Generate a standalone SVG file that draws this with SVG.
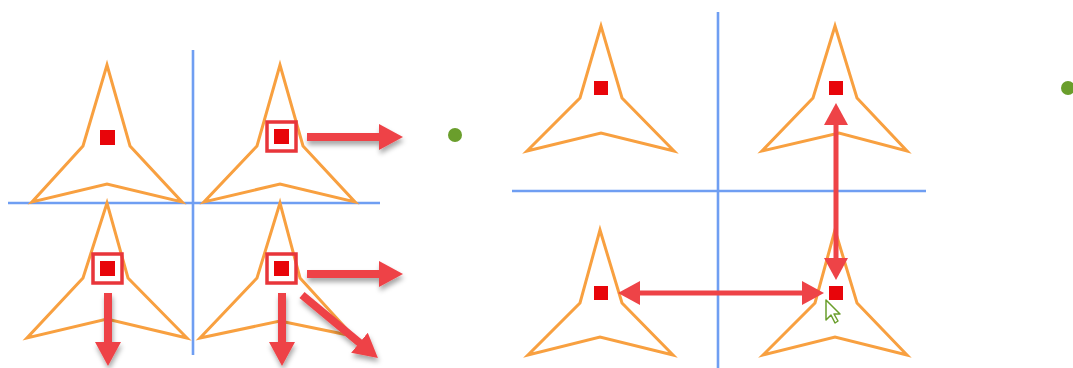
<svg xmlns="http://www.w3.org/2000/svg" width="1073" height="368" viewBox="0 0 1073 368">
<style>
.axis{stroke:#6f9ef2;stroke-width:2.6;fill:none}
.star{fill:none;stroke:#f8a040;stroke-width:3;stroke-linejoin:miter}
.pt{fill:#e8050a}
.sel{fill:none;stroke:#e8353a;stroke-width:3.5}
.arrL{stroke:#ee4347;stroke-width:8;fill:none;marker-end:url(#headL)}
.arrR{stroke:#ee4347;stroke-width:5;fill:none;marker-end:url(#headR);marker-start:url(#headR)}
.dot{fill:#6a9e2c}
</style>
<defs>
<marker id="headL" viewBox="0 0 24 26" markerWidth="24" markerHeight="26" markerUnits="userSpaceOnUse" refX="2" refY="13" orient="auto"><path d="M0,0 L24,13 L0,26 z" fill="#ee4347"/></marker>
<marker id="headR" viewBox="0 0 22 24" markerWidth="22" markerHeight="24" markerUnits="userSpaceOnUse" refX="2" refY="12" orient="auto-start-reverse"><path d="M0,0 L22,12 L0,24 z" fill="#ee4347"/></marker>
<filter id="shadow" filterUnits="userSpaceOnUse" x="0" y="0" width="1073" height="368"><feDropShadow dx="1" dy="4" stdDeviation="2.5" flood-color="#000" flood-opacity="0.35"/></filter>
</defs>
<rect width="1073" height="368" fill="#ffffff"/>
<g id="axes">
<line class="axis" x1="193" y1="50" x2="193" y2="355"/>
<line class="axis" x1="8" y1="203" x2="380" y2="203"/>
<line class="axis" x1="718" y1="12" x2="718" y2="368"/>
<line class="axis" x1="512" y1="191" x2="926" y2="191"/>
</g>
<g id="star-l-tl">
<path class="star" d="M107,65 L83,146 L32,202 L107,184 L182,202 L130,146 Z"/>
<rect class="pt" x="100" y="130" width="15" height="15"/>
</g>
<g id="star-l-tr">
<path class="star" d="M280,65 L257,146 L204,202 L280,184 L355,202 L303,146 Z"/>
<rect class="sel" x="267" y="122" width="29" height="29"/>
<rect class="pt" x="274" y="129" width="15" height="15"/>
</g>
<g id="star-l-bl">
<path class="star" d="M107,203 L83,278 L27,338 L107,319 L187,338 L128,278 Z"/>
<rect class="sel" x="93" y="254" width="29" height="29"/>
<rect class="pt" x="100" y="261" width="15" height="15"/>
</g>
<g id="star-l-br">
<path class="star" d="M280,203 L257,278 L200,338 L280,321 L353,336 L300,278 Z"/>
<rect class="sel" x="267" y="254" width="29" height="29"/>
<rect class="pt" x="274" y="261" width="15" height="15"/>
</g>
<g id="dot-1"><circle class="dot" cx="455" cy="135" r="7"/></g>
<g id="star-r-tl">
<path class="star" d="M601,26 L580,98 L527,151 L601,133 L674,151 L622,98 Z"/>
<rect class="pt" x="594" y="81" width="14" height="14"/>
</g>
<g id="star-r-tr">
<path class="star" d="M835,26 L813,98 L762,151 L839,133 L907,151 L857,98 Z"/>
<rect class="pt" x="829" y="81" width="14" height="14"/>
</g>
<g id="star-r-bl">
<path class="star" d="M600,230 L580,303 L528,355 L600,337 L673,355 L622,303 Z"/>
<rect class="pt" x="594" y="286" width="14" height="14"/>
</g>
<g id="star-r-br">
<path class="star" d="M835,230 L815,303 L763,355 L835,337 L907,355 L857,303 Z"/>
<rect class="pt" x="829" y="286" width="14" height="14"/>
</g>
<g id="dot-2"><circle class="dot" cx="1068" cy="88" r="7"/></g>
<g id="connectors">
<g filter="url(#shadow)">
<line class="arrL" x1="307" y1="137" x2="381" y2="137"/>
<line class="arrL" x1="307" y1="274" x2="381" y2="274"/>
<line class="arrL" x1="108" y1="293" x2="108" y2="344"/>
<line class="arrL" x1="282" y1="293" x2="282" y2="344"/>
<line class="arrL" x1="302" y1="295" x2="361" y2="344"/>
</g>
<line class="arrR" x1="836" y1="123" x2="836" y2="260"/>
<line class="arrR" x1="638" y1="293" x2="804" y2="293"/>
</g>
<g id="cursor">
<path d="M826,300 L826,320 L831,315 L835,323 L838,321 L834,314 L840,314 Z" fill="#ffffff" stroke="#6a9e2c" stroke-width="1.5" stroke-linejoin="round"/>
</g>
</svg>
